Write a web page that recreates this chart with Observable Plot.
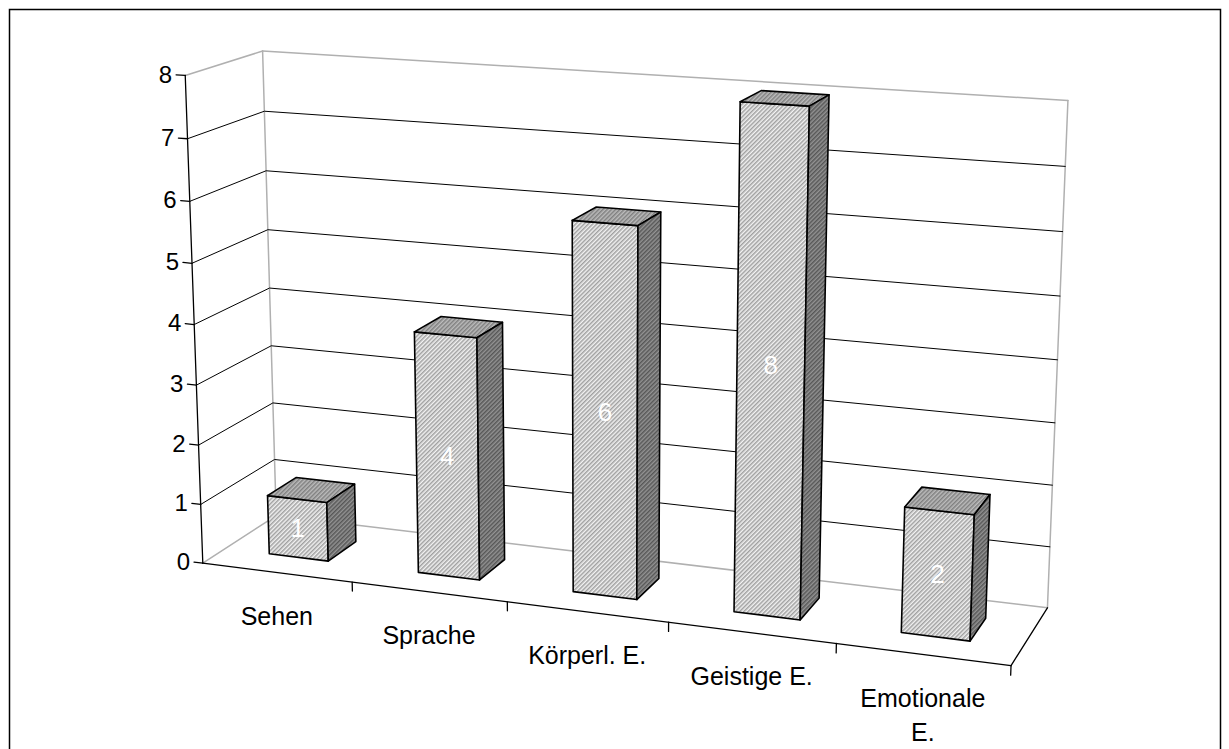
<!DOCTYPE html>
<html><head><meta charset="utf-8">
<script src="https://cdn.jsdelivr.net/npm/d3@7"></script>
<script src="https://cdn.jsdelivr.net/npm/@observablehq/plot@0.6"></script>
<style>body{margin:0;background:#fff;overflow:hidden}</style>
</head><body><div id="chart"></div>
<script>
const categories = ["Sehen", "Sprache", "Körperl. E.", "Geistige E.", "Emotionale\nE."];
const values = [1, 4, 6, 8, 2];
const valueTicks = [0, 1, 2, 3, 4, 5, 6, 7, 8];

// perspective camera (3x4 matrix, last entry 1): (category, value, depth) -> screen/100
const cam = [1.428275, -0.03168627, 0.8781795, 2.022974,
             0.08114684, -0.6136099, -0.2068893, 5.626544,
             -0.01862224, -0.005270898, 0.05234585];
const proj = (X, Y, Z) => {
  const w = cam[8]*X + cam[9]*Y + cam[10]*Z + 1;
  return {x: 100*(cam[0]*X + cam[1]*Y + cam[2]*Z + cam[3])/w,
          y: 100*(cam[4]*X + cam[5]*Y + cam[6]*Z + cam[7])/w};
};

const N = categories.length, TOP = d3.max(valueTicks);
const seg = (id, pts) => pts.map(p => ({id, ...proj(...p)}));
const edgeLines = [
  ...seg("lt", [[0,TOP,0],[0,TOP,1]]),
  ...seg("bt", [[0,TOP,1],[N,TOP,1]]),
  ...seg("bl", [[0,0,1],[0,TOP,1]]),
  ...seg("br", [[N,0,1],[N,TOP,1]]),
  ...seg("bb", [[0,0,1],[N,0,1]]),
  ...seg("fl", [[0,0,0],[0,0,1]])
];
const gridLines = valueTicks.filter(k => k > 0 && k < TOP).flatMap(k => seg("g"+k, [[0,k,0],[0,k,1],[N,k,1]]));
const axisLines = [
  ...seg("va", [[0,0,0],[0,TOP,0]]),
  ...seg("ca", [[0,0,0],[N,0,0]]),
  ...seg("fr", [[N,0,0],[N,0,1]]),
  ...valueTicks.flatMap(k => seg("vt"+k, [[0,k,0],[-0.06,k,0]])),
  ...d3.range(1, N+1).flatMap(i => seg("ct"+i, [[i,0,0],[i,-0.15,0]]))
];
const bw = 0.4, z0 = 0.3, z1 = 0.7;
const fronts = [], tops = [], sides = [], barLabels = [];
values.forEach((v, i) => {
  const x0 = i + 0.5 - bw/2, x1 = i + 0.5 + bw/2;
  fronts.push(...seg("f"+i, [[x0,0,z0],[x1,0,z0],[x1,v,z0],[x0,v,z0],[x0,0,z0]]));
  tops.push(...seg("t"+i, [[x0,v,z0],[x1,v,z0],[x1,v,z1],[x0,v,z1],[x0,v,z0]]));
  sides.push(...seg("s"+i, [[x1,0,z0],[x1,0,z1],[x1,v,z1],[x1,v,z0],[x1,0,z0]]));
  barLabels.push({...proj(i + 0.5, v/2, z0), text: String(v)});
});
const tickLabels = valueTicks.map(k => ({...proj(-0.06, k, 0), text: String(k)}));
const catLabels = categories.map((c, i) => ({...proj(i + 0.5, 0, 0), text: c}));

const W = 1229, H = 749;
const font = "'Liberation Sans', Arial, sans-serif";
const svg = Plot.plot({
  width: W, height: H,
  marginTop: 9, marginLeft: 9, marginRight: 9, marginBottom: -6,
  x: {type: "linear", domain: [0, W], range: [0, W], axis: null},
  y: {type: "linear", domain: [0, H], range: [0, H], axis: null},
  style: {fontFamily: font, background: "white", overflow: "hidden"},
  marks: [
    Plot.frame({stroke: "#000", strokeWidth: 1.5}),
    Plot.line(edgeLines, {x: "x", y: "y", z: "id", stroke: "#b0b0b0", strokeWidth: 1.5}),
    Plot.line(gridLines, {x: "x", y: "y", z: "id", stroke: "#000", strokeWidth: 1}),
    Plot.line(axisLines, {x: "x", y: "y", z: "id", stroke: "#000", strokeWidth: 1.3}),
    Plot.line(fronts, {x: "x", y: "y", z: "id", fill: "url(#hFront)", stroke: "#000", strokeWidth: 1.6, strokeLinejoin: "round"}),
    Plot.line(tops, {x: "x", y: "y", z: "id", fill: "url(#hTop)", stroke: "#000", strokeWidth: 1.6, strokeLinejoin: "round"}),
    Plot.line(sides, {x: "x", y: "y", z: "id", fill: "url(#hSide)", stroke: "#000", strokeWidth: 1.6, strokeLinejoin: "round"}),
    Plot.text(barLabels, {x: "x", y: "y", text: "text", fill: "#fff", fontSize: 26}),
    Plot.text(tickLabels, {x: "x", y: "y", text: "text", textAnchor: "end", dx: -4, fontSize: 24, fill: "#000"}),
    Plot.text(catLabels, {x: "x", y: "y", text: "text", lineAnchor: "top", dy: 28, fontSize: 25, lineHeight: 1.36, fill: "#000"})
  ]
});
d3.select(svg).insert("defs", ":first-child").html(`
<pattern id="hFront" patternUnits="userSpaceOnUse" width="3" height="3" patternTransform="rotate(45)"><rect width="3" height="3" fill="#f2f2f2"/><rect width="1.5" height="3" fill="#a0a0a0"/></pattern>
<pattern id="hTop" patternUnits="userSpaceOnUse" width="3" height="3" patternTransform="rotate(45)"><rect width="3" height="3" fill="#bcbcbc"/><rect width="1.5" height="3" fill="#808080"/></pattern>
<pattern id="hSide" patternUnits="userSpaceOnUse" width="3" height="3" patternTransform="rotate(45)"><rect width="3" height="3" fill="#939393"/><rect width="1.5" height="3" fill="#575757"/></pattern>`);
document.getElementById("chart").appendChild(svg);
</script>
</body></html>
